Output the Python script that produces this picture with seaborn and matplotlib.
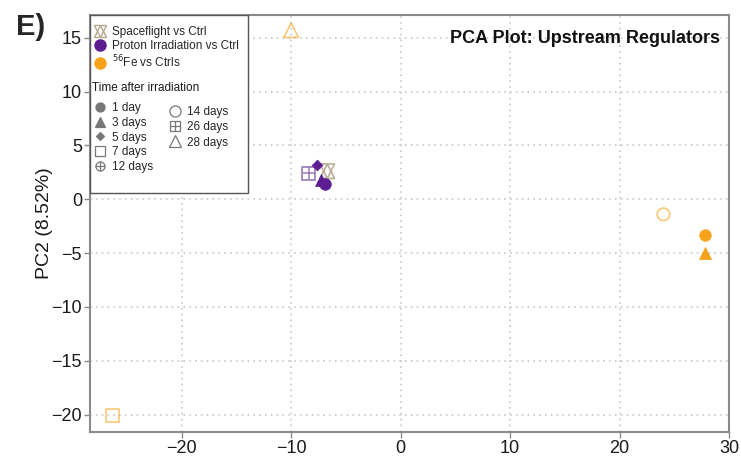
import pandas as pd
import numpy as np
import matplotlib.pyplot as plt
from matplotlib.lines import Line2D
from matplotlib.patches import Rectangle
from matplotlib.legend_handler import HandlerTuple
import seaborn as sns

# PCA scores
groups = ['Spaceflight', 'Proton', 'Proton', 'Proton', 'Proton',
          'Fe', 'Fe', 'Fe', 'Fe', 'Fe']
times = ['flight', '26 days', '5 days', '3 days', '1 day',
         '28 days', '14 days', '1 day', '3 days', '7 days']
pc1 = [-6.7, -8.4, -7.6, -7.3, -6.9, -10.0, 24.0, 27.8, 27.8, -26.3]
pc2 = [2.6, 2.4, 3.2, 1.8, 1.4, 15.7, -1.4, -3.3, -5.0, -20.1]

group_colors = {'Spaceflight': '#b3a78c', 'Proton': '#5d1d91', 'Fe': '#f7a21b'}
group_labels = ['Spaceflight vs Ctrl', 'Proton Irradiation vs Ctrl', r'$^{56}$Fe vs Ctrls']
time_col1 = ['1 day', '3 days', '5 days', '7 days', '12 days']
time_col2 = ['14 days', '26 days', '28 days']

df = pd.DataFrame({'Group': groups, 'Time': times, 'PC1': pc1, 'PC2': pc2})

# marker layers per time point: (marker, filled, size)
time_markers = {
    '1 day': [('o', True, 70)],
    '3 days': [('^', True, 75)],
    '5 days': [('D', True, 30)],
    '7 days': [('s', False, 80)],
    '12 days': [('o', False, 80), ('+', True, 80)],
    '14 days': [('o', False, 80)],
    '26 days': [('s', False, 85), ('+', True, 85)],
    '28 days': [('^', False, 110)],
    'flight': [('^', False, 110), ('v', False, 110)],
}

sns.set_style('white')
plt.rcParams['font.family'] = ['Liberation Sans', 'DejaVu Sans']

fig = plt.figure(figsize=(7.41, 4.57), dpi=100)
ax = fig.add_axes([0.121, 0.055, 0.863, 0.912])

for i, row in df.iterrows():
    col = group_colors[row['Group']]
    pdf = df.loc[[i]]
    open_col = '#8b6bb0' if row['Group'] == 'Proton' else col
    alpha = 0.6 if row['Group'] == 'Fe' else 0.9
    for mk, filled, sz in time_markers[row['Time']]:
        if mk == '+':
            sns.scatterplot(x=pdf['PC1'], y=pdf['PC2'], marker=mk, s=sz,
                            color=open_col, linewidth=1.1, alpha=alpha, ax=ax, zorder=3)
        elif filled:
            sns.scatterplot(x=pdf['PC1'], y=pdf['PC2'], marker=mk, s=sz,
                            color=col, edgecolor=col, linewidth=0.5, ax=ax, zorder=3)
        else:
            sns.scatterplot(x=pdf['PC1'], y=pdf['PC2'], marker=mk, s=sz,
                            facecolor='none', edgecolor=open_col,
                            linewidth=1.2, alpha=alpha, ax=ax, zorder=3)

ax.set_xlim(-28.4, 30)
ax.set_ylim(-21.6, 17.1)
ax.set_xticks([-20, -10, 0, 10, 20, 30])
ax.set_yticks([-20, -15, -10, -5, 0, 5, 10, 15])
ax.set_xticklabels(['\u221220', '\u221210', '0', '10', '20', '30'])
ax.set_yticklabels(['\u221220', '\u221215', '\u221210', '\u22125', '0', '5', '10', '15'])
ax.grid(True, linestyle=(0, (1, 2.5)), color='#c8c8c8', linewidth=1.2)
ax.tick_params(axis='both', labelsize=13, length=4, width=1, color='#888888',
               labelcolor='#1a1a1a', direction='out', left=True, bottom=True, pad=1.5)
for sp in ax.spines.values():
    sp.set_color('#8a8a8a')
    sp.set_linewidth(1.5)
ax.set_xlabel('')
ax.set_ylabel('PC2 (8.52%)', fontsize=14, color='#1a1a1a', labelpad=-1)

ax.text(0.985, 0.965, 'PCA Plot: Upstream Regulators', transform=ax.transAxes,
        ha='right', va='top', fontsize=13, fontweight='bold', color='#111111')
fig.text(0.022, 0.972, 'E)', ha='left', va='top', fontsize=21, fontweight='bold')

# legend frame
ax.add_patch(Rectangle((0, 0.573), 0.247, 0.427, transform=ax.transAxes,
                       facecolor='white', edgecolor='#555555', linewidth=1.0, zorder=4))

sf_handle = (Line2D([], [], marker='^', ls='none', mfc='none', mec=group_colors['Spaceflight'], ms=8),
             Line2D([], [], marker='v', ls='none', mfc='none', mec=group_colors['Spaceflight'], ms=8))
g_handles = [sf_handle,
             Line2D([], [], marker='o', ls='none', color=group_colors['Proton'], ms=8),
             Line2D([], [], marker='o', ls='none', color=group_colors['Fe'], ms=8)]
leg_kw = dict(loc='upper left', frameon=False, handlelength=1.2, handletextpad=0.4,
              borderaxespad=0, borderpad=0)
leg1 = ax.legend(g_handles, group_labels, bbox_to_anchor=(0.005, 0.974),
                 fontsize=8.5, labelspacing=0.15,
                 handler_map={tuple: HandlerTuple(ndivide=None, pad=-1.2)}, **leg_kw)
leg1.set_zorder(5)
ax.add_artist(leg1)

ax.text(0.004, 0.824, 'Time after irradiation', transform=ax.transAxes,
        ha='left', va='center', fontsize=8.5, color='#1a1a1a', zorder=5)

gray = '#777777'
def th(mk, filled, ms=6.5):
    return Line2D([], [], marker=mk, ls='none', mfc=gray if filled else 'none', mec=gray, ms=ms, mew=0.9)

c1_handles = [th('o', True), th('^', True), th('D', True, 4),
              th('s', False), (th('o', False), th('+', False))]
c2_handles = [th('o', False, 8), (th('s', False, 7.5), th('+', False, 7.5)), th('^', False, 9)]

leg2 = ax.legend(c1_handles, time_col1, bbox_to_anchor=(0.005, 0.791),
                 fontsize=8.5, labelspacing=0.23,
                 handler_map={tuple: HandlerTuple(ndivide=1)}, **leg_kw)
leg2.set_zorder(5)
ax.add_artist(leg2)

leg3 = ax.legend(c2_handles, time_col2, bbox_to_anchor=(0.122, 0.782),
                 fontsize=8.5, labelspacing=0.28,
                 handler_map={tuple: HandlerTuple(ndivide=1)}, **leg_kw)
leg3.set_zorder(5)

plt.savefig('out.png', dpi=100)
